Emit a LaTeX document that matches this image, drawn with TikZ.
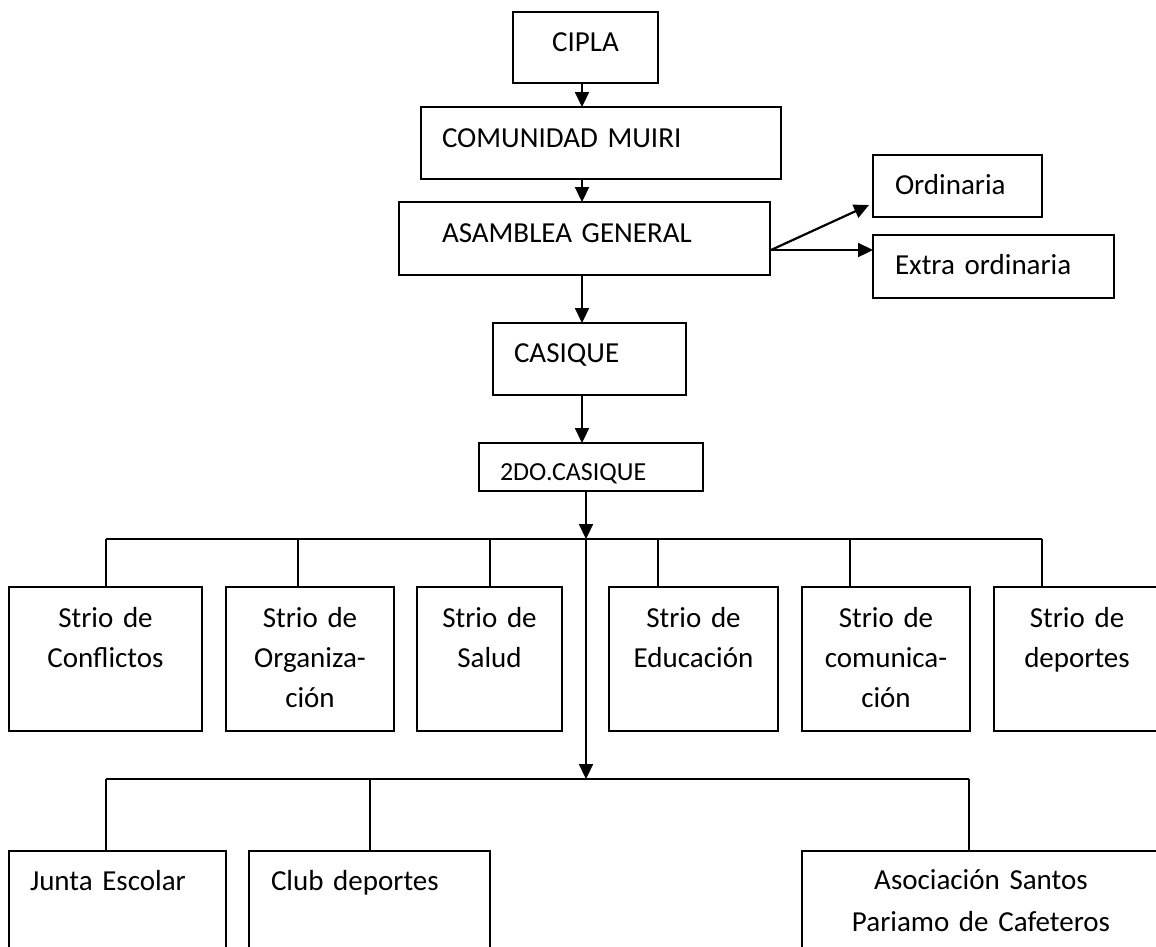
\documentclass[tikz,border=0pt]{standalone}
\usepackage{fontspec}
\setmainfont{Carlito}
\usetikzlibrary{arrows.meta,calc}
\begin{document}
\begin{tikzpicture}[x=1pt,y=-1pt,
  box/.style={draw, line width=1.7pt, anchor=north west, inner ysep=0pt, outer sep=0pt,
    font=\fontsize{29}{40}\selectfont},
  lbox/.style={box, align=left},
  cbox/.style={box, align=center, inner xsep=0pt},
  arr/.style={line width=2.2pt, -{Triangle[length=15pt,width=14pt]}},
  bus/.style={line width=1.7pt}]
\useasboundingbox (0,0) rectangle (1156,946);
\clip (0,0) rectangle (1156,946);

% top chain
\node[cbox, text width=145pt, text height=39pt, text depth=32pt] (cipla) at (513,12) {CIPLA};
\node[lbox, inner xsep=21pt, text width=318pt, text height=40pt, text depth=32pt] (comunidad) at (421,107) {COMUNIDAD MUIRI};
\node[lbox, inner xsep=43pt, text width=285pt, text height=40pt, text depth=33pt] (asamblea) at (399,202) {ASAMBLEA GENERAL};
\node[lbox, inner xsep=22pt, text width=125pt, text height=39pt, text depth=23pt] (ordinaria) at (873,155) {Ordinaria};
\node[lbox, inner xsep=22pt, text width=197pt, text height=39pt, text depth=24pt] (extra) at (873,235) {Extra ordinaria};
\node[lbox, inner xsep=21pt, text width=151pt, text height=39pt, text depth=33pt] (casique) at (493,323) {CASIQUE};
\node[lbox, inner xsep=21pt, text width=182pt, text height=37pt, text depth=11pt,
      font=\fontsize{26}{32}\selectfont] (dos) at (479,443) {2DO.CASIQUE};

% secretaries
\tikzset{strio/.style={cbox, text height=40pt, text depth=104pt}}
\node[strio, text width=193pt] (conf) at (9,587) {Strio de\\Conflictos};
\node[strio, text width=168pt] (org) at (226,587) {Strio de\\Organiza-\\ción};
\node[strio, text width=145pt] (salud) at (417,587) {Strio de\\Salud};
\node[strio, text width=169pt] (edu) at (609,587) {Strio de\\Educación};
\node[strio, text width=168pt] (com) at (802,587) {Strio de\\comunica-\\ción};
\node[strio, text width=166pt] (dep) at (994,587) {Strio de\\deportes};

% bottom row
\node[lbox, inner xsep=21pt, text width=175pt, text height=39pt, text depth=70pt] (junta) at (9,851) {Junta Escolar};
\node[lbox, inner xsep=22pt, text width=197pt, text height=39pt, text depth=70pt] (club) at (249,851) {Club deportes};
\node[cbox, text width=358pt, text height=38pt, text depth=71pt,
      font=\fontsize{29}{42}\selectfont] (asoc) at (802,851) {Asociación Santos\\Pariamo de Cafeteros};

% vertical chain arrows
\coordinate (ax) at (582,0);
\coordinate (bx) at (586,0);
\draw[arr] (cipla.south -| ax) -- (comunidad.north -| ax);
\draw[arr] (comunidad.south -| ax) -- (asamblea.north -| ax);
\draw[arr] (asamblea.south -| ax) -- (casique.north -| ax);
\draw[arr] (casique.south -| ax) -- (dos.north -| ax);

% split to Ordinaria / Extra ordinaria
\coordinate (sp) at (771,250);
\draw[arr] (sp) -- ($(ordinaria.south west)+(-4,-12)$);
\draw[arr] (sp) -- (extra.west |- sp);

% buses
\coordinate (bus1) at (586,539);
\coordinate (bus2) at (586,779);
\draw[arr] (dos.south -| bx) -- (bus1);
\draw[arr] (bus1) -- (bus2);

\coordinate (s1) at (106,539);
\coordinate (s2) at (298,539);
\coordinate (s3) at (490,539);
\coordinate (s4) at (658,539);
\coordinate (s5) at (850,539);
\coordinate (s6) at (1042,539);
\draw[bus] (s1) -- (s6);
\draw[bus] (s1) -- (s1 |- conf.north);
\draw[bus] (s2) -- (s2 |- org.north);
\draw[bus] (s3) -- (s3 |- salud.north);
\draw[bus] (s4) -- (s4 |- edu.north);
\draw[bus] (s5) -- (s5 |- com.north);
\draw[bus] (s6) -- (s6 |- dep.north);

\coordinate (t1) at (106,779);
\coordinate (t2) at (370,779);
\coordinate (t3) at (969,779);
\draw[bus] (t1) -- (t3);
\draw[bus] (t1) -- (t1 |- junta.north);
\draw[bus] (t2) -- (t2 |- club.north);
\draw[bus] (t3) -- (t3 |- asoc.north);
\end{tikzpicture}
\end{document}
